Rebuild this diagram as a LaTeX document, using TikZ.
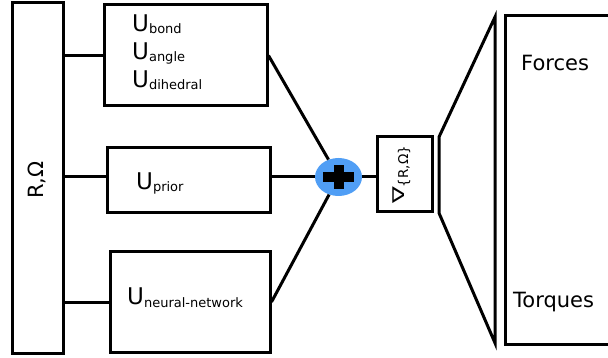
\documentclass[tikz,border=0pt]{standalone}
\usepackage{fontspec}
\setmainfont{DejaVu Sans}
\usetikzlibrary{positioning, shapes.geometric}
\definecolor{plusblue}{RGB}{80,158,245}
\tikzset{ubox/.style={draw, line width=3pt, inner sep=0pt}}
\tikzset{conn/.style={draw, line width=3pt}}
\tikzset{utxt/.style={anchor=base west, inner sep=0pt, font=\fontsize{23}{27}\selectfont}}
\tikzset{otxt/.style={anchor=base west, inner sep=0pt, font=\fontsize{21}{25}\selectfont}}
\newcommand\usub[1]{U\raisebox{-2pt}{\fontsize{13}{15}\selectfont #1}}

\begin{document}
\begin{tikzpicture}[x=1pt, y=-1pt]
	\clip (0,0) rectangle (608,358);
	% inputs and energy terms
	\node[ubox, minimum width=51pt, minimum height=350pt] (coords) at (37.5,178) {};
	\node[rotate=90, anchor=base, inner sep=0pt, font=\fontsize{21}{25}\selectfont] (coordlbl) at (43,180) {R,Ω};
	\node[ubox, minimum width=163pt, minimum height=101pt] (bonded) at (185.5,55.5) {};
	\node[ubox, minimum width=163pt, minimum height=65pt] (prior) at (188.5,180.5) {};
	\node[ubox, minimum width=160pt, minimum height=100pt] (neural) at (190,302) {};
	\node[utxt] (ubond) at (132,32) {\usub{bond}};
	\node[utxt] (uangle) at (132,60) {\usub{angle}};
	\node[utxt] (udihed) at (132,88) {\usub{dihedral}};
	\node[utxt] (uprior) at (136,190) {\usub{prior}};
	\node[utxt] (uneural) at (127,305) {\usub{neural-network}};

	% sum and gradient
	\node[ellipse, fill=plusblue, minimum width=47pt, minimum height=38pt, inner sep=0pt] (sum) at (338.5,177) {};
	\fill (sum.center) ++(-15.5,-5) rectangle ++(31,10);
	\fill (sum.center) ++(-5,-12) rectangle ++(10,24);

	\draw[conn] (coords.east |- bonded.west) -- (bonded.west);
	\draw[conn] (coords.east |- sum.west) -- (prior.west |- sum.west);
	\draw[conn] (coords.east |- neural.west) -- (neural.west);
	\draw[conn] (bonded.east) -- (sum);
	\draw[conn] (prior.east |- sum.west) -- (sum.west);
	\draw[conn] (neural.east) -- (sum);

	\node[ubox, minimum width=55pt, minimum height=75pt] (grad) at (404.5,174.5) {};
	\node[rotate=90, anchor=base, inner sep=0pt] (gradlbl) at (404,175)
		{\scalebox{1}[0.65]{\fontsize{25}{27}\selectfont ∇}\raisebox{-4pt}{\fontsize{13.5}{15}\selectfont\{R,Ω\}}};
	\draw[conn] (sum.east) -- (sum.east -| grad.west);

	% funnel and outputs
	\coordinate (f1) at (439,137);
	\coordinate (f2) at (495,17);
	\coordinate (f3) at (495,343);
	\coordinate (f4) at (439,213);
	\draw[conn, line join=miter] (f1) -- (f2) -- (f3) -- (f4) -- cycle;
	\node[ubox, minimum width=120pt, minimum height=328pt] (outputs) at (565,180) {};
	\node[otxt] (forces) at (521,71) {Forces};
	\node[otxt] (torques) at (513,307) {Torques};
\end{tikzpicture}
\end{document}
